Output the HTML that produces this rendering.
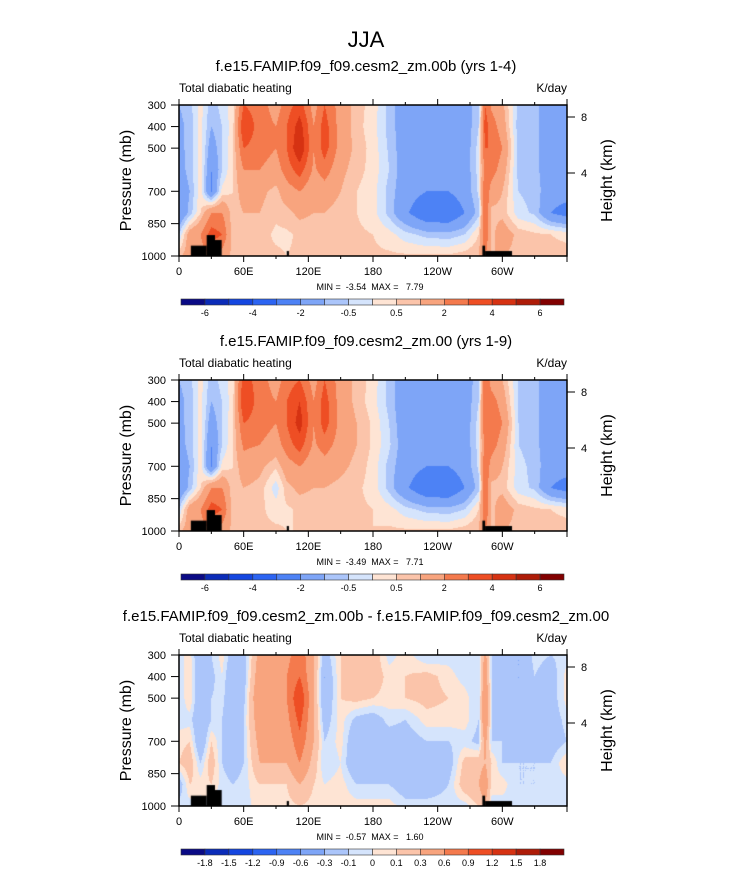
<!DOCTYPE html>
<html><head><meta charset="utf-8"><style>
body{margin:0;background:#fff;width:733px;height:872px;overflow:hidden;position:relative;font-family:"Liberation Sans",sans-serif}
canvas{position:absolute;z-index:1}
svg{position:absolute;left:0;top:0;z-index:2}
text{white-space:pre}
</style></head><body>
<svg id="s" width="733" height="872"></svg>
<script>
const lons=[0,10,20,30,40,50,60,75,90,100,112,125,135,150,165,180,195,210,230,250,265,278,284,290,300,315,330,345,360];
const levs=[300,400,500,600,700,800,900,1000];
const field1=[
[-1,-0.7,0.2,-0.8,-0.3,0.3,3,2.5,1.5,2.5,3.5,1.5,3,1.5,0.7,0.3,-0.7,-1.5,-1.7,-1.7,-1.2,-0.8,3,1.8,1.2,-0.7,-0.8,-1.5,-1.5],
[-1.2,-0.8,0.2,-1,-0.5,0.3,4,2.5,2,3,4.5,2,3.5,1.5,0.7,0.2,-0.7,-1.5,-1.8,-1.8,-1.5,-0.5,3.5,2.5,1.5,-0.8,-0.8,-1.5,-1.5],
[-1.2,-0.8,0.3,-1.5,-0.5,0.4,3,2.5,2,3,5,2,3.5,1.5,0.8,0.3,-0.6,-1.5,-1.8,-1.8,-1.5,-0.3,3,3,2,-0.7,-0.8,-1.5,-1.5],
[-1.3,-0.8,0.3,-2,-0.5,0.5,2,2,1.5,2.5,3.5,1.8,2.5,1.2,0.7,0.3,-0.5,-1.5,-1.8,-1.8,-1.5,-0.3,2.5,2.5,1.5,-0.7,-0.8,-1.5,-1.5],
[-1.5,-1,0.3,-2.2,0.2,0.5,1.5,1.2,0.8,1.5,2,1.2,1.5,1,0.5,0.2,-0.7,-1.5,-2,-2,-1.5,-0.4,3,1.5,1,-0.5,-0.7,-1.5,-1.5],
[-2,-0.8,0.5,2,2,0.6,1,1,0.6,0.8,1.2,1,1,0.7,0.5,0.2,-0.7,-1.8,-3,-3,-2,-0.7,3,0.8,0.8,-0.3,-0.6,-2,-2.5],
[-0.5,1.5,2,3.5,3,0.6,0.8,0.7,0.4,0.4,0.6,0.6,0.6,0.5,0.6,0.5,0.2,-0.3,-0.7,-0.8,-0.5,0.5,3,0.8,1.5,0.8,0.6,0.5,0.3],
[0.8,1.5,1.5,2,1.5,0.8,0.8,0.6,0.6,0.5,0.6,0.6,0.6,0.5,0.6,0.6,0.6,0.6,0.6,0.6,0.8,1,2,1,1,0.8,0.8,0.8,0.8]];
const field2=[
[-1,-0.7,0.2,-0.8,-0.3,0.3,3.5,2.5,1.5,2.5,3,1.5,3,1.5,0.8,0.3,-0.7,-1.6,-1.8,-1.8,-1.3,-0.8,3,1.5,1,-0.5,-0.8,-1.5,-1.5],
[-1.2,-0.8,0.2,-1,-0.5,0.3,4,2.5,2,3,4,2,3.5,1.5,0.8,0.2,-0.7,-1.6,-1.8,-1.8,-1.5,-0.5,3,2.5,1.5,-0.6,-0.8,-1.5,-1.5],
[-1.2,-0.8,0.3,-1.5,-0.5,0.4,3,2.5,2,3,4.5,2,3.5,1.6,1,0.4,-0.5,-1.6,-1.8,-1.8,-1.5,-0.3,3,3,2,-0.5,-0.8,-1.5,-1.5],
[-1.3,-0.8,0.3,-2,-0.5,0.5,2.2,2,1.5,2.5,3.5,1.8,2.5,1.5,1,0.4,-0.4,-1.5,-1.8,-1.8,-1.5,-0.3,2.5,2.5,1.5,-0.5,-0.8,-1.5,-1.5],
[-1.5,-1,0.3,-2.2,0.2,0.5,1.5,1.2,0.6,1.5,2,1.2,1.5,1.2,0.8,0.3,-0.7,-1.5,-2,-2,-1.5,-0.4,3,1.5,1,-0.3,-0.7,-1.5,-1.5],
[-2,-0.8,0.5,2,2,0.6,1,0.8,-0.3,0.8,1.2,1,1,0.8,0.6,0.3,-0.7,-1.8,-3,-3,-2,-0.7,3,0.8,0.8,-0.3,-0.6,-2,-2.5],
[-0.5,1.5,2,3.5,3,0.6,0.8,0.6,0.3,0.4,0.6,0.6,0.6,0.5,0.6,0.5,0.2,-0.3,-0.7,-0.8,-0.5,0.5,3,0.8,1.5,0.8,0.6,0.5,0.3],
[0.8,1.5,1.5,2,1.5,0.8,0.8,0.6,0.6,0.5,0.5,0.5,0.5,0.5,0.5,0.5,0.6,0.6,0.6,0.6,0.8,1,2,1,1,0.8,0.8,0.8,0.8]];
const field3=[
[-0.05,0.05,-0.3,-0.1,0.05,-0.2,-0.2,0.4,0.3,0.5,0.8,0.3,-0.2,0.1,0.2,0.2,-0.05,0.05,-0.1,-0.05,-0.1,-0.1,0.4,-0.1,-0.2,-0.3,-0.05,-0.1,-0.05],
[-0.1,0.1,-0.3,-0.15,0,-0.3,-0.2,0.5,0.4,0.6,0.9,0.3,-0.3,0.1,0.2,0.2,0.05,0.1,0.15,0.05,-0.05,-0.1,0.5,-0.1,-0.2,-0.3,-0.1,-0.2,0.05],
[-0.1,0.1,-0.3,-0.1,-0.05,-0.3,-0.15,0.6,0.5,0.6,1.2,0.3,-0.3,0.1,0.15,0.1,0.05,0.1,0.15,0.1,0.05,-0.1,0.6,-0.1,-0.2,-0.3,-0.1,-0.2,0.05],
[-0.05,-0.05,-0.3,-0.1,-0.1,-0.3,-0.1,0.5,0.4,0.5,1,0.3,-0.2,0.05,-0.15,-0.2,-0.05,-0.1,0.05,0.05,0.05,-0.1,0.6,-0.1,-0.15,-0.3,-0.1,-0.2,-0.05],
[0.05,0.1,-0.3,0.1,-0.1,-0.2,-0.1,0.4,0.3,0.4,0.8,0.3,-0.1,0.05,-0.3,-0.2,-0.2,-0.2,-0.1,-0.1,-0.05,-0.15,0.4,-0.1,-0.1,-0.2,-0.2,-0.2,-0.1],
[0.1,0.2,-0.1,0.2,-0.1,-0.2,-0.1,0.3,0.3,0.3,0.6,0.2,-0.1,0,-0.3,-0.3,-0.3,-0.3,-0.2,-0.2,0.15,0.2,0.3,0.1,-0.1,-0.1,-0.1,-0.1,0.1],
[-0.2,0.1,0.05,0.1,-0.05,-0.1,-0.05,0.1,0.1,0.1,0.3,0.1,0,0.05,-0.1,-0.1,-0.1,-0.2,-0.2,-0.1,0.2,0.3,0.5,0.05,0.05,-0.1,-0.1,-0.05,-0.05],
[-0.05,-0.05,-0.05,-0.05,-0.05,-0.05,-0.05,0.05,0.05,0.05,0.1,0.05,0.05,0.05,0.05,0.05,0.05,-0.05,-0.05,-0.05,-0.05,0.1,0.3,-0.05,-0.05,-0.05,-0.05,-0.05,-0.05]];
const levels1=[-6,-5,-4,-3,-2,-1,-0.5,0,0.5,1,2,3,4,5,6];
const labels1=["-6","","-4","","-2","","-0.5","","0.5","","2","","4","","6"];
const levels3=[-1.8,-1.5,-1.2,-0.9,-0.6,-0.3,-0.1,0,0.1,0.3,0.6,0.9,1.2,1.5,1.8];
const labels3=["-1.8","-1.5","-1.2","-0.9","-0.6","-0.3","-0.1","0","0.1","0.3","0.6","0.9","1.2","1.5","1.8"];
const colors=["#0a0a85","#0b2cb8","#1446e0","#2c64f2","#4d82f5","#7ea5f7","#abc5fa","#d5e4fc","#fee4d4","#fbc4aa","#f8a47e","#f47a4d","#ee4e24","#d63212","#ae1c08","#820000"];
const terrain=[[11,25.7,952],[25.7,33.4,903],[33.4,39.6,926],[100,102,977],[281.5,284,952],[284,309,977]];
const xTicks=[0,60,120,180,240,300];
const xLabels=["0","60E","120E","180","120W","60W"];
const pTicks=[300,400,500,700,850,1000];
const hTicks=[8,4];
const panels=[
 {top:105,field:field1,levels:levels1,labels:labels1,title:"f.e15.FAMIP.f09_f09.cesm2_zm.00b (yrs 1-4)",min:"-3.54",max:"7.79"},
 {top:380,field:field2,levels:levels1,labels:labels1,title:"f.e15.FAMIP.f09_f09.cesm2_zm.00 (yrs 1-9)",min:"-3.49",max:"7.71"},
 {top:655,field:field3,levels:levels3,labels:labels3,title:"f.e15.FAMIP.f09_f09.cesm2_zm.00b - f.e15.FAMIP.f09_f09.cesm2_zm.00",min:"-0.57",max:"1.60"}];
const L=179,W=388,H=151;
const svg=document.getElementById('s');const NS="http://www.w3.org/2000/svg";
function el(t,a,p){const e=document.createElementNS(NS,t);for(const k in a)e.setAttribute(k,a[k]);(p||svg).appendChild(e);return e;}
function txt(x,y,s,size,anchor,name){const e=el('text',{x:x,y:y,'font-size':size,'text-anchor':anchor||'start','font-family':'Liberation Sans, sans-serif',fill:'#000'});e.textContent=s;


return e;}
const xs=lon=>L+lon/360*W;
function hex(c){return [parseInt(c.substr(1,2),16),parseInt(c.substr(3,2),16),parseInt(c.substr(5,2),16)];}
const rgb=colors.map(hex);
function interp(f,lon,p){let i=0;while(i<lons.length-2&&lon>lons[i+1])i++;let j=0;while(j<levs.length-2&&p>levs[j+1])j++;
const tx=(lon-lons[i])/(lons[i+1]-lons[i]),ty=(p-levs[j])/(levs[j+1]-levs[j]);
return f[j][i]*(1-tx)*(1-ty)+f[j][i+1]*tx*(1-ty)+f[j+1][i]*(1-tx)*ty+f[j+1][i+1]*tx*ty;}
txt(366,47,"JJA",22,'middle','figure-title');
panels.forEach((P,k)=>{
 const ys=p=>P.top+(p-300)/700*H;
 const cv=document.createElement('canvas');cv.width=W;cv.height=H;cv.style.left=L+'px';cv.style.top=P.top+'px';
 
 
 document.body.appendChild(cv);
 const ctx=cv.getContext('2d');const img=ctx.createImageData(W,H);
 for(let y=0;y<H;y++)for(let x=0;x<W;x++){const v=interp(P.field,(x+0.5)/W*360,300+(y+0.5)/H*700);let c=0;while(c<P.levels.length&&v>=P.levels[c])c++;const q=(y*W+x)*4;img.data[q]=rgb[c][0];img.data[q+1]=rgb[c][1];img.data[q+2]=rgb[c][2];img.data[q+3]=255;}
 ctx.putImageData(img,0,0);
 ctx.fillStyle='#000';
 terrain.forEach(t=>{ctx.fillRect(t[0]/360*W,(t[2]-300)/700*H,(t[1]-t[0])/360*W,H);});
 const g=el('g',{});
 txt(366,P.top-34,P.title,15,'middle','panel-title-'+(k+1));
 txt(L,P.top-13,"Total diabatic heating",12,'start','left-string-'+(k+1));
 txt(L+W,P.top-13,"K/day",12,'end','units-'+(k+1));
 const fr=el('rect',{x:L,y:P.top,width:W,height:H,fill:'none',stroke:'#000','stroke-width':1.5},g);
 
 for(let lon=0;lon<=360;lon+=30){const len=lon%60?3:6;const X=xs(lon);
  el('line',{x1:X,y1:P.top+H,x2:X,y2:P.top+H+len,stroke:'#000'},g);el('line',{x1:X,y1:P.top,x2:X,y2:P.top-len,stroke:'#000'},g);}
 xTicks.forEach((lon,i)=>txt(xs(lon),P.top+H+19,xLabels[i],11,'middle','x-tick-label'));
 pTicks.forEach(p=>{el('line',{x1:L-8,y1:ys(p),x2:L,y2:ys(p),stroke:'#000'},g);txt(L-13,ys(p)+4,String(p),11,'end','y-tick-label');});
 hTicks.forEach((h,i)=>{const Y=P.top+12+i*56;el('line',{x1:L+W,y1:Y,x2:L+W+8,y2:Y,stroke:'#000'},g);txt(L+W+14,Y+4,String(h),11,'start','height-tick-label');});
 const yl=txt(131,P.top+H/2,"Pressure (mb)",16,'middle','y-axis-title');yl.setAttribute('transform','rotate(-90 131 '+(P.top+H/2)+')');
 const hl=txt(612,P.top+H/2,"Height (km)",16,'middle','right-axis-title');hl.setAttribute('transform','rotate(-90 612 '+(P.top+H/2)+')');
 txt(370,P.top+H+34,"MIN =  "+P.min+"  MAX =   "+P.max,9,'middle','min-max-text');
 const cy=P.top+194,bw=383/16;
 colors.forEach((c,i)=>{const r=el('rect',{x:181+i*bw,y:cy,width:bw,height:6,fill:c,stroke:'#333','stroke-width':0.6},g);
 
 });
 P.labels.forEach((s,i)=>{if(s)txt(181+(i+1)*bw,cy+17,s,9,'middle','colorbar-label');});
});
</script>
</body></html>
